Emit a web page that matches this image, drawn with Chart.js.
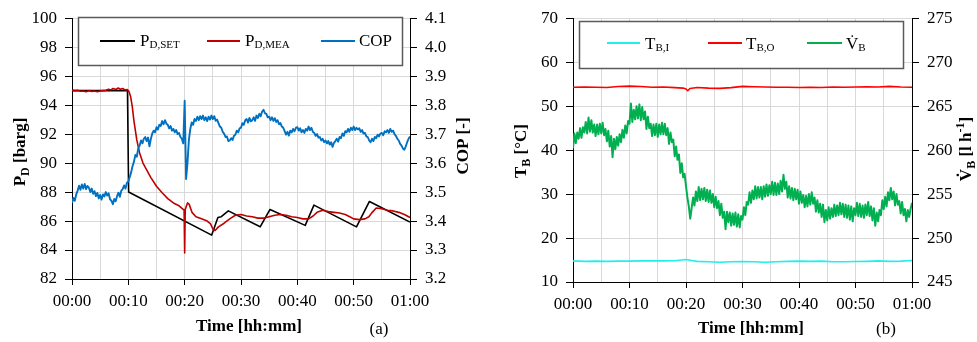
<!DOCTYPE html>
<html><head><meta charset="utf-8">
<script src="https://cdn.jsdelivr.net/npm/chart.js@4.4.1/dist/chart.umd.min.js"></script>
<style>
html,body{margin:0;padding:0;background:#fff;width:977px;height:342px;overflow:hidden}
.w{position:absolute;top:0;height:342px}
</style></head><body>
<div class="w" style="left:0;width:490px"><canvas id="c1"></canvas></div>
<div class="w" style="left:490px;width:487px"><canvas id="c2"></canvas></div>
<script>
// ---------- data (minutes from 00:00) ----------
const SAMPLE_STEP = 0.25; // minutes between samples of the noisy logged series

const psetTime   = [0, 9.85, 10.05, 24.8, 25.9, 26.5, 27.75, 33.4, 35.15, 41.4, 42.95, 50.5, 52.8, 60];
const psetValues = [95.0, 95.0, 88.0, 85.03, 86.25, 86.3, 86.7, 85.6, 86.8, 85.7, 87.1, 85.6, 87.35, 85.93];

const pmeaTime = [0,0.5,1,1.5,2,2.5,3,3.5,4,4.5,5,5.5,6,6.5,6.9,7.3,7.8,8.2,8.6,9.0,9.4,9.8,10.1,10.4,10.7,11.0,11.5,12.0,12.6,13.3,14,15,16,17,18,19,19.9,20.0,20.1,20.5,20.8,21.3,22,23,24,24.6,25,25.4,26,27,28,29,30,31,32,33,34,35,36,37,38,39,40,41,42,42.8,43.5,44.5,45.5,46.5,47.5,48.5,49.3,50,51,52,52.7,53.3,54,55,56,57,58,59,60];
const pmeaValues = [95.05,95.0,95.02,94.96,94.98,94.93,95.0,94.95,94.97,94.92,94.98,95.0,95.02,95.1,95.05,95.15,95.08,95.18,95.1,95.15,95.05,95.08,94.95,94.6,93.9,92.9,91.6,90.7,90.0,89.5,89.0,88.4,87.95,87.55,87.25,87.05,86.75,83.8,86.8,87.25,87.15,86.6,86.3,86.15,86.0,85.8,85.45,85.35,85.6,85.85,86.15,86.4,86.45,86.35,86.3,86.2,86.2,86.3,86.4,86.45,86.4,86.3,86.25,86.15,86.15,86.35,86.6,86.75,86.65,86.6,86.55,86.45,86.3,86.15,86.1,86.15,86.3,86.6,86.9,86.85,86.75,86.7,86.6,86.45,86.25];

const copValues = [
3.462,3.480,3.470,3.492, 3.505,3.522,3.508,3.526, 3.512,3.528,3.510,3.521, 3.515,3.500,3.512,3.494,
3.503,3.486,3.497,3.478, 3.490,3.474,3.492,3.485, 3.500,3.488,3.496,3.475, 3.470,3.458,3.476,3.468,
3.486,3.498,3.484,3.505, 3.510,3.523,3.512,3.532, 3.536,3.552,3.568,3.590, 3.605,3.628,3.622,3.650,
3.660,3.678,3.668,3.684, 3.690,3.676,3.688,3.658, 3.684,3.702,3.712,3.706, 3.724,3.716,3.732,3.728,
3.745,3.734,3.748,3.736, 3.732,3.720,3.728,3.712, 3.718,3.706,3.714,3.700, 3.704,3.690,3.684,3.668,
3.815,3.545,3.600,3.680, 3.718,3.740,3.732,3.752, 3.745,3.760,3.748,3.762, 3.752,3.764,3.748,3.758,
3.745,3.760,3.750,3.764, 3.752,3.762,3.746,3.750, 3.738,3.726,3.722,3.708, 3.702,3.690,3.692,3.676,
3.678,3.686,3.680,3.694, 3.698,3.712,3.706,3.720, 3.722,3.738,3.732,3.748, 3.752,3.740,3.756,3.744,
3.748,3.758,3.746,3.764, 3.756,3.770,3.762,3.778, 3.784,3.772,3.770,3.758, 3.760,3.748,3.758,3.746,
3.755,3.742,3.748,3.734, 3.738,3.726,3.722,3.710, 3.698,3.708,3.695,3.712, 3.706,3.718,3.710,3.722,
3.724,3.712,3.720,3.706, 3.714,3.704,3.718,3.712, 3.726,3.714,3.722,3.708, 3.704,3.694,3.700,3.688,
3.690,3.678,3.684,3.672, 3.678,3.668,3.676,3.664, 3.672,3.656,3.670,3.676, 3.684,3.674,3.690,3.686,
3.702,3.694,3.710,3.706, 3.718,3.708,3.722,3.714, 3.726,3.714,3.722,3.716, 3.720,3.708,3.714,3.702,
3.704,3.692,3.690,3.678, 3.672,3.684,3.676,3.690, 3.686,3.698,3.692,3.702, 3.704,3.696,3.710,3.706,
3.714,3.704,3.718,3.708, 3.712,3.700,3.694,3.684, 3.678,3.666,3.660,3.650, 3.646,3.658,3.672,3.684,
3.692];

const tbiTime   = [0,2,4,6,8,10,12,14,16,18,20,21,22,24,26,28,30,32,34,36,38,40,42,44,46,48,50,52,54,56,58,60];
const tbiValues = [14.8,14.7,14.75,14.7,14.75,14.75,14.8,14.85,14.8,14.85,15.1,14.9,14.7,14.6,14.5,14.6,14.65,14.6,14.5,14.6,14.7,14.75,14.7,14.75,14.6,14.6,14.65,14.7,14.8,14.7,14.75,14.9];

const tboTime   = [0,2,4,6,8,10,12,14,16,18,19.5,20,20.3,20.7,22,24,26,28,30,32,34,36,38,40,42,44,46,48,50,52,54,56,58,60];
const tboValues = [54.3,54.35,54.3,54.25,54.45,54.55,54.45,54.3,54.35,54.2,54.1,53.9,53.5,54.0,54.25,54.1,54.05,54.2,54.5,54.4,54.35,54.3,54.3,54.25,54.3,54.25,54.35,54.3,54.35,54.4,54.35,54.5,54.35,54.3];

const vbValues = [
260.2,261.9,260.8,262.0, 261.3,262.5,261.4,262.6, 262.0,263.2,261.9,263.7, 262.1,263.4,262.0,262.9,
261.6,262.9,261.8,263.0, 261.9,263.1,261.7,262.4, 261.0,262.2,260.4,261.6, 259.2,261.3,260.1,261.5,
260.5,261.8,260.9,262.3, 261.4,262.8,261.9,263.3, 263.0,265.3,263.2,264.6, 263.5,265.0,263.6,265.2,
263.4,264.9,263.5,264.4, 262.4,263.8,262.5,263.0, 261.6,262.9,261.7,263.0, 261.5,262.9,261.8,263.1,
261.8,263.0,261.7,262.5, 260.7,262.0,260.9,261.2, 259.3,260.4,258.9,259.5, 257.4,258.5,256.9,257.3,
255.9,254.6,253.6,252.2, 253.4,254.6,253.7,255.3, 254.2,255.8,254.3,255.6, 254.4,255.7,254.2,255.5,
254.1,255.4,254.0,255.0, 253.5,254.7,253.4,254.2, 252.6,253.9,252.3,253.0, 251.0,253.0,251.8,252.9,
251.4,252.8,251.5,252.9, 251.3,252.7,251.2,252.5, 252.1,253.5,252.6,254.1, 253.8,255.2,254.0,255.4,
254.4,255.9,254.5,255.8, 254.6,255.8,254.4,255.9, 254.7,256.1,254.8,256.0, 255.0,256.4,254.9,256.3,
254.9,256.2,255.0,256.5, 255.3,257.2,255.6,256.4, 254.6,255.9,254.5,255.7, 254.3,255.6,254.4,255.5,
253.9,255.3,254.0,254.9, 253.5,254.8,253.6,255.0, 253.8,255.2,253.9,254.6, 253.0,254.3,252.9,253.9,
252.4,253.8,251.8,253.2, 252.0,253.5,252.2,253.4, 252.4,253.8,252.5,253.7, 252.6,254.0,252.7,253.9,
252.4,253.8,252.3,253.7, 252.1,253.6,251.9,253.4, 252.6,254.0,252.5,253.9, 252.4,253.7,252.3,253.8,
252.6,254.1,252.5,253.6, 252.0,253.4,251.4,252.9, 251.9,253.2,252.6,254.3, 253.3,254.7,253.6,255.2,
254.3,255.7,254.4,255.3, 253.7,255.0,253.8,254.2, 252.8,254.1,252.6,253.3, 251.9,253.2,252.4,253.3,
254.0];

// ---------- helpers ----------
const FONT = '"Liberation Serif","Times New Roman",serif';
Chart.defaults.font.family = FONT;
Chart.defaults.font.size = 17;
Chart.defaults.color = '#000';

const pairs = (t, v) => t.map((x, i) => ({x, y: v[i]}));
const sampled = v => v.map((y, i) => ({x: i * SAMPLE_STEP, y}));
const fmt = v => { const h = Math.floor(v / 60), m = v % 60; return String(h).padStart(2,'0') + ':' + String(m).padStart(2,'0'); };

function xAxis(h) {
  return {
    type: 'linear', min: 0, max: 60,
    border: {color: '#000', width: 1},
    grid: {color: '#d9d9d9', lineWidth: 1, tickLength: 6,
      tickColor: c => (c.tick && c.tick.value % 10 === 0) ? '#000' : 'rgba(0,0,0,0)'},
    ticks: {stepSize: 5, autoSkip: false, maxRotation: 0, padding: 6, color: '#000',
      callback: v => (v % 10 === 0 ? fmt(v) : '')},
    afterFit: s => { s.height = h; }
  };
}
function yLeft(min, max, step, w) {
  return {position: 'left', min, max, border: {color: '#000', width: 1},
    grid: {color: '#d9d9d9', lineWidth: 1, tickLength: 7, tickColor: '#000'},
    ticks: {stepSize: step, padding: 8, color: '#000'},
    afterFit: s => { s.width = w; }};
}
function yRight(min, max, step, w, dec) {
  return {position: 'right', min, max, border: {color: '#000', width: 1},
    grid: {drawOnChartArea: false, tickLength: 7, tickColor: '#000'},
    ticks: {stepSize: step, padding: 8, color: '#000', callback: v => v.toFixed(dec)},
    afterFit: s => { s.width = w; }};
}

function drawRich(ctx, parts, x, y, o) {
  const size = o.size || 17, bold = o.bold ? 'bold ' : '';
  const subSize = o.subSize || 11, subDy = o.subDy == null ? 4 : o.subDy;
  const fontOf = p => bold + (p.s ? subSize : size) + 'px ' + FONT;
  ctx.save();
  ctx.translate(x, y);
  if (o.rotate) ctx.rotate(-Math.PI / 2);
  ctx.textAlign = 'left'; ctx.textBaseline = 'alphabetic'; ctx.fillStyle = '#000';
  let w = 0;
  for (const p of parts) { ctx.font = fontOf(p); w += ctx.measureText(p.t).width; }
  let cx = o.align === 'center' ? -w / 2 : 0;
  const base = o.align === 'center' ? 6 : 0;
  for (const p of parts) {
    ctx.font = fontOf(p);
    const dy = p.s === 'sub' ? subDy : (p.s === 'sup' ? -7 : 0);
    ctx.fillText(p.t, cx, base + dy);
    cx += ctx.measureText(p.t).width;
  }
  ctx.restore();
}

function annotations(spec) {
  return {
    id: 'annot',
    afterDraw(chart) {
      const ctx = chart.ctx;
      const L = spec.legend;
      ctx.save();
      ctx.fillStyle = '#fff';
      ctx.fillRect(L.box[0], L.box[1], L.box[2], L.box[3]);
      ctx.strokeStyle = '#5a5a5a'; ctx.lineWidth = 1.5;
      ctx.strokeRect(L.box[0] + 0.5, L.box[1] + 0.5, L.box[2], L.box[3]);
      L.items.forEach((it, i) => {
        const ds = chart.data.datasets[i];
        ctx.strokeStyle = ds.borderColor; ctx.lineWidth = 2;
        ctx.beginPath(); ctx.moveTo(it.x1, L.lineY); ctx.lineTo(it.x2, L.lineY); ctx.stroke();
        drawRich(ctx, it.parts, it.tx, L.textY, {size: 17, subSize: 11, subDy: 1.5});
      });
      ctx.restore();
      spec.titles.forEach(t => drawRich(ctx, t.parts, t.x, t.y,
        {align: 'center', rotate: t.rotate, bold: t.bold, size: 17, subSize: 12, subDy: 4}));
    }
  };
}

const lineDs = (label, data, color, axis, width, order) => ({
  label, data, borderColor: color, backgroundColor: color, yAxisID: axis, order,
  borderWidth: width, pointRadius: 0, tension: 0, fill: false, borderJoinStyle: 'round'
});

const baseOpts = {
  responsive: true, maintainAspectRatio: false, animation: false,
  plugins: {legend: {display: false}, tooltip: {enabled: false}},
};

// ---------- chart (a) ----------
new Chart(document.getElementById('c1'), {
  type: 'line',
  data: {datasets: [
    lineDs('PD,SET', pairs(psetTime, psetValues), '#000000', 'y', 1.6, 2),
    lineDs('PD,MEA', pairs(pmeaTime, pmeaValues), '#c00000', 'y', 1.6, 1),
    lineDs('COP', sampled(copValues), '#0070c0', 'y2', 1.9, 0)
  ]},
  options: Object.assign({}, baseOpts, {
    layout: {padding: {top: 12, left: 0, right: 0, bottom: 0}},
    scales: {x: xAxis(63), y: yLeft(82, 100, 2, 72), y2: yRight(3.2, 4.1, 0.1, 80, 1)}
  }),
  plugins: [annotations({
    legend: {box: [78, 17, 324, 48], lineY: 41, textY: 46, items: [
      {x1: 100, x2: 135, tx: 140, parts: [{t: 'P'}, {t: 'D,SET', s: 'sub'}]},
      {x1: 207, x2: 240, tx: 245, parts: [{t: 'P'}, {t: 'D,MEA', s: 'sub'}]},
      {x1: 321, x2: 355, tx: 359, parts: [{t: 'COP'}]}
    ]},
    titles: [
      {parts: [{t: 'P'}, {t: 'D', s: 'sub'}, {t: ' [barg]'}], x: 19, y: 152, rotate: true, bold: true},
      {parts: [{t: 'COP [-]'}], x: 462, y: 146, rotate: true, bold: true},
      {parts: [{t: 'Time [hh:mm]'}], x: 249, y: 325, bold: true},
      {parts: [{t: '(a)'}], x: 379, y: 328}
    ]
  })]
});

// ---------- chart (b) ----------
new Chart(document.getElementById('c2'), {
  type: 'line',
  data: {datasets: [
    lineDs('TB,I', pairs(tbiTime, tbiValues), '#22eeee', 'y', 1.6, 2),
    lineDs('TB,O', pairs(tboTime, tboValues), '#ff0000', 'y', 1.6, 1),
    lineDs('VB', sampled(vbValues), '#00b050', 'y2', 2.0, 0)
  ]},
  options: Object.assign({}, baseOpts, {
    layout: {padding: {top: 15, left: 0, right: 0, bottom: 0}},
    scales: {x: xAxis(60), y: yLeft(10, 70, 10, 83), y2: yRight(245, 275, 5, 65, 0)}
  }),
  plugins: [annotations({
    legend: {box: [89, 21, 324, 47], lineY: 43, textY: 49, items: [
      {x1: 117, x2: 150, tx: 155, parts: [{t: 'T'}, {t: 'B,I', s: 'sub'}]},
      {x1: 218, x2: 252, tx: 256, parts: [{t: 'T'}, {t: 'B,O', s: 'sub'}]},
      {x1: 317, x2: 352, tx: 356, parts: [{t: 'V\u0307'}, {t: 'B', s: 'sub'}]}
    ]},
    titles: [
      {parts: [{t: 'T'}, {t: 'B', s: 'sub'}, {t: ' [\u00B0C]'}], x: 30, y: 151, rotate: true, bold: true},
      {parts: [{t: 'V\u0307'}, {t: 'B', s: 'sub'}, {t: ' [l h'}, {t: '-1', s: 'sup'}, {t: ']'}], x: 475, y: 149, rotate: true, bold: true},
      {parts: [{t: 'Time [hh:mm]'}], x: 261, y: 327, bold: true},
      {parts: [{t: '(b)'}], x: 396, y: 328}
    ]
  })]
});
</script></body></html>
